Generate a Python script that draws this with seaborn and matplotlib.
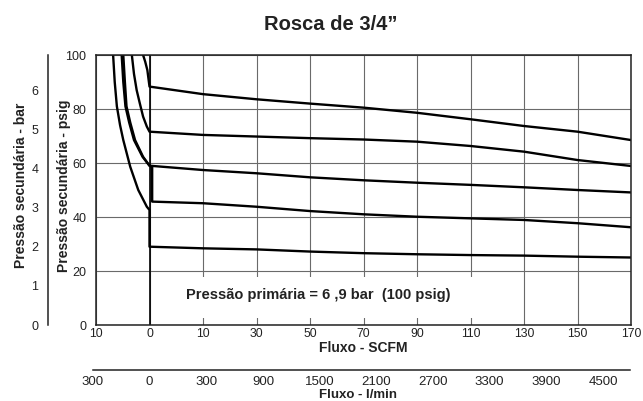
import numpy as np
import pandas as pd
import matplotlib
matplotlib.use('Agg')
from matplotlib import pyplot as plt
from matplotlib.patches import Rectangle
import seaborn as sns

# x axis: SCFM ticks are evenly spaced on the chart, not in value
scfm_ticks = [-10, 0, 10, 30, 50, 70, 90, 110, 130, 150, 170]
scfm_labels = ['10', '0', '10', '30', '50', '70', '90', '110', '130', '150', '170']
lmin_labels = ['300', '0', '300', '900', '1500', '2100', '2700', '3300', '3900', '4500']
psig_ticks = [0, 20, 40, 60, 80, 100]
bar_ticks = [0, 1, 2, 3, 4, 5, 6]
bar_max = 6.895  # 100 psig

# regulation curves (SCFM, psig)
c1_scfm = [-6.8, -6.5, -6.1, -5.5, -4.9, -3.6, -2.1, -0.5, 0, 0, 10, 30, 50, 70, 90, 110, 130, 150, 170]
c1_psig = [100, 90, 81, 74, 68.5, 58.6, 50, 43.8, 42.6, 29, 28.4, 28.0, 27.2, 26.6, 26.2, 25.9, 25.7, 25.3, 25.0]
c2_scfm = [-5.2, -4.9, -4.5, -3.8, -2.9, -1.3, 0, 0.5, 0.5, 10, 30, 50, 70, 90, 110, 130, 150, 170]
c2_psig = [100, 90, 81, 75, 68.5, 62.3, 59, 58.5, 45.7, 45.1, 43.8, 42.2, 41.0, 40.1, 39.5, 38.9, 37.7, 36.2]
c3_scfm = [-4.9, -4.6, -4.3, -3.6, -2.7, -1.2, 0, 10, 30, 50, 70, 90, 110, 130, 150, 170]
c3_psig = [100, 90, 81, 75, 68.5, 62.3, 59, 57.4, 56.2, 54.7, 53.6, 52.7, 51.9, 51.0, 50.0, 49.1]
c4_scfm = [-3.3, -2.9, -2.4, -1.8, -1.2, -0.5, 0, 10, 30, 50, 70, 90, 110, 130, 150, 170]
c4_psig = [100, 93, 87, 82, 77.2, 73.5, 71.6, 70.4, 69.8, 69.2, 68.7, 67.9, 66.3, 64.2, 61.1, 58.9]
c5_scfm = [-1.2, -0.8, -0.4, 0, 10, 30, 50, 70, 90, 110, 130, 150, 170]
c5_psig = [100, 97.5, 94.4, 88.3, 85.5, 83.6, 82.0, 80.5, 78.6, 76.2, 73.7, 71.6, 68.5]

curves = {'c1': (c1_scfm, c1_psig), 'c2': (c2_scfm, c2_psig), 'c3': (c3_scfm, c3_psig),
          'c4': (c4_scfm, c4_psig), 'c5': (c5_scfm, c5_psig)}
rows = []
for name, (xs, ys) in curves.items():
    for xv, yv in zip(xs, ys):
        rows.append(dict(curve=name, scfm=xv, psig=yv))
df = pd.DataFrame(rows)
# map SCFM onto the tick positions of the chart
df['pos'] = np.interp(df['scfm'], scfm_ticks, np.arange(len(scfm_ticks)))

sns.set_style('white')
plt.rcParams['font.family'] = 'Liberation Sans'
dark = '#222222'

W, H = 643, 401
fig = plt.figure(figsize=(W / 100, H / 100), dpi=100)

####################################
# MAIN PLOT (psig vs SCFM)
####################################
ax = fig.add_axes([96 / W, 76 / H, 535 / W, 270 / H])
ax.set_axisbelow(True)
ax.grid(True, color='#6a6a6a', lw=0.8)
ax.axvline(np.interp(0, scfm_ticks, np.arange(len(scfm_ticks))), color='black', lw=1.2, zorder=0.8)
sns.lineplot(data=df, x='pos', y='psig', units='curve', estimator=None, sort=False,
             color='black', lw=1.7, ax=ax, legend=False)
ax.set_xlim(0, len(scfm_ticks) - 1)
ax.set_ylim(0, 100)
ax.set_xticks(np.arange(len(scfm_ticks)))
ax.set_xticklabels(scfm_labels)
ax.set_yticks(psig_ticks)
ax.tick_params(axis='x', length=0, pad=2.5, labelsize=8.8, colors=dark)
ax.tick_params(axis='y', length=0, pad=7, labelsize=9, colors=dark)
ax.set(xlabel='', ylabel='')
for s in ax.spines.values():
    s.set_color(dark)
    s.set_linewidth(1.1)

# white box behind the note, the grid is interrupted there
ax.add_patch(Rectangle((0.12, 0.026), 0.626, 0.152, transform=ax.transAxes,
                       facecolor='white', edgecolor='none', zorder=1))
ax.text(0.415, 0.111, 'Pressão primária = 6 ,9 bar  (100 psig)', transform=ax.transAxes,
        ha='center', va='center', fontsize=10.5, fontweight='bold', color=dark, zorder=3)

####################################
# BAR AXIS (left)
####################################
axb = fig.add_axes([96 / W, 76 / H, 535 / W, 270 / H])
axb.patch.set_visible(False)
for k in ['top', 'right', 'bottom']:
    axb.spines[k].set_visible(False)
axb.spines['left'].set_position(('outward', 48 * 0.72))
axb.spines['left'].set_color(dark)
axb.spines['left'].set_linewidth(1.1)
axb.set_xticks([])
axb.set_ylim(0, bar_max)
axb.set_yticks(bar_ticks)
axb.tick_params(axis='y', direction='in', length=3.6, width=1, pad=7, labelsize=9, colors=dark)

####################################
# l/min AXIS (bottom)
####################################
axl = fig.add_axes([93 / W, 31 / H, 537 / W, 0.001])
axl.patch.set_visible(False)
for k in ['top', 'right', 'left']:
    axl.spines[k].set_visible(False)
axl.spines['bottom'].set_color(dark)
axl.spines['bottom'].set_linewidth(1.1)
axl.set_yticks([])
axl.set_xlim(0, 537 / 56.67)
axl.set_xticks(np.arange(len(lmin_labels)))
axl.set_xticklabels(lmin_labels)
axl.tick_params(axis='x', direction='in', length=3.6, width=1, pad=4.5, labelsize=9.5, colors=dark)

####################################
# TEXTS
####################################
fig.text(331 / W, 1 - 25 / H, 'Rosca de 3/4”', ha='center', va='center',
         fontsize=14.5, fontweight='bold', color=dark)
fig.text(21 / W, 1 - 185 / H, 'Pressão secundária - bar', rotation=90, ha='center', va='center',
         fontsize=10, fontweight='bold', color=dark)
fig.text(64 / W, 1 - 186 / H, 'Pressão secundária - psig', rotation=90, ha='center', va='center',
         fontsize=10, fontweight='bold', color=dark)
fig.text(363 / W, 1 - 348 / H, 'Fluxo - SCFM', ha='center', va='center',
         fontsize=10, fontweight='bold', color=dark)
fig.text(358 / W, 1 - 395 / H, 'Fluxo - l/min', ha='center', va='center',
         fontsize=9.5, fontweight='bold', color=dark)

fig.savefig('out.png', dpi=100)
